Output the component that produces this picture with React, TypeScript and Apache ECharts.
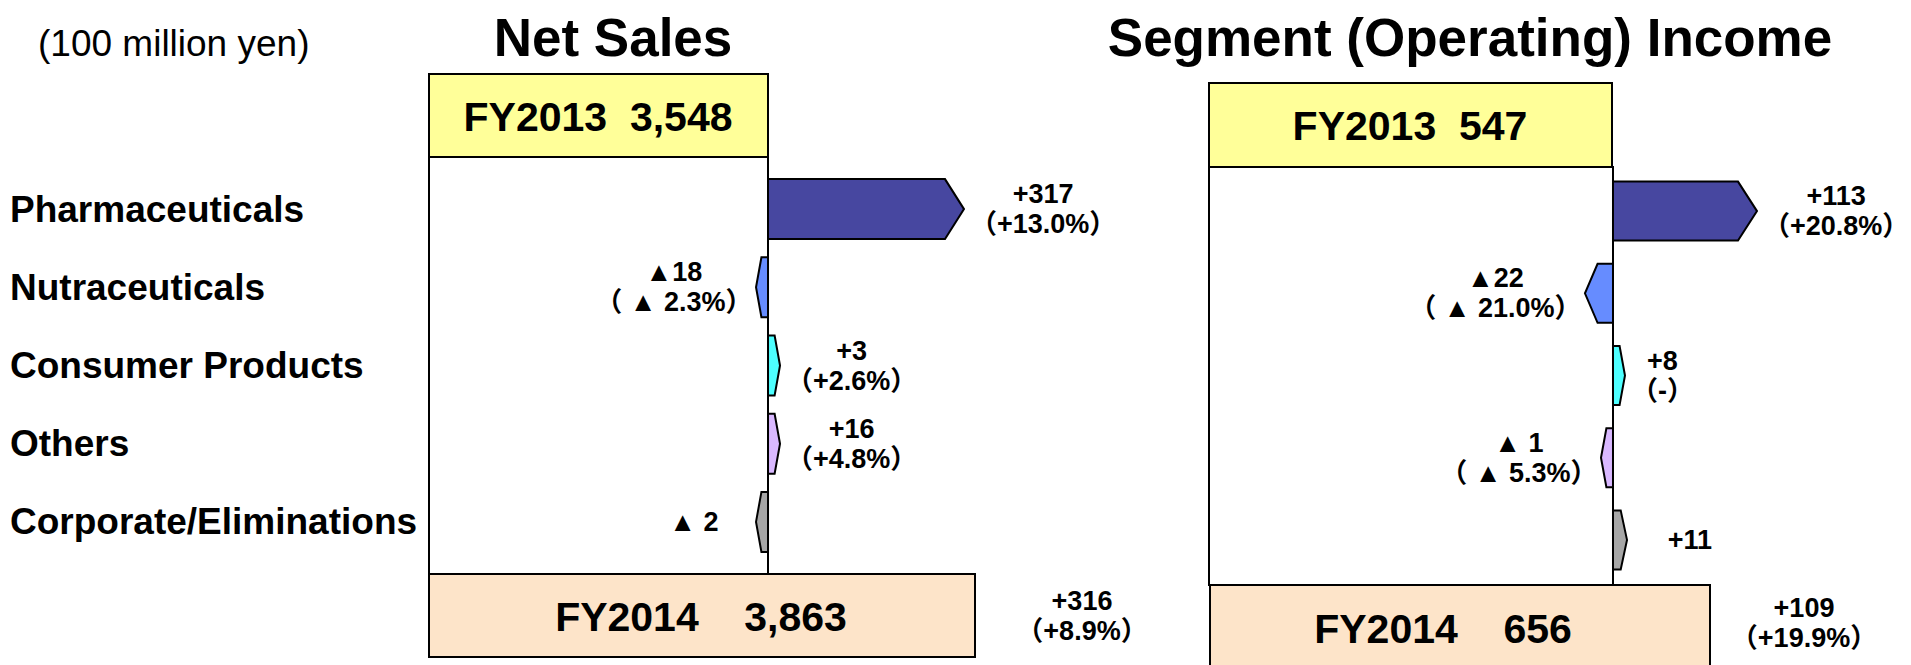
import React, { useEffect, useRef } from "react";
import * as echarts from "echarts";

// ---------- data ----------
const categories = ["Pharmaceuticals", "Nutraceuticals", "Consumer Products", "Others", "Corporate/Eliminations"];
const segmentColors = ["#4747A0", "#668CFF", "#4DFFFF", "#D9B8FF", "#A6A6A6"];

const salesChange = [317, -18, 3, 16, -2];
const salesChangeText = ["+317", "▲18", "+3", "+16", "▲ 2"];
const salesChangePct = ["（+13.0%）", "（ ▲ 2.3%）", "（+2.6%）", "（+4.8%）", ""];

const incomeChange = [113, -22, 8, -1, 11];
const incomeChangeText = ["+113", "▲22", "+8", "▲ 1", "+11"];
const incomeChangePct = ["（+20.8%）", "（ ▲ 21.0%）", "（-）", "（ ▲ 5.3%）", ""];

const fiscalYears = ["FY2013", "FY2014"];
const salesTotals = [3548, 3863];
const incomeTotals = [547, 656];
const salesTotalChange = ["+316", "（+8.9%）"];
const incomeTotalChange = ["+109", "（+19.9%）"];

const titles = ["Net Sales", "Segment (Operating) Income"];
const unitText = "(100 million yen)";

// ---------- styling ----------
const FONT = "Arial, 'Liberation Sans', 'Noto Sans CJK JP', sans-serif";
const LABEL_FS = 27;

function estWidth(s: string, fs: number) {
  let w = 0;
  for (const ch of s) {
    if ("（）".includes(ch)) w += 1.0;
    else if (ch === "▲") w += 0.8;
    else if (ch === "%") w += 0.889;
    else if (ch === "." || ch === " ") w += 0.278;
    else if (ch === "-") w += 0.333;
    else if (ch === "+") w += 0.584;
    else w += 0.556;
  }
  return w * fs;
}

function fmt(n: number) {
  return n.toLocaleString("en-US");
}

function makeRenderItem(texts: string[], pcts: string[], barH: number) {
  return (params: any, api: any) => {
    const idx = params.dataIndex;
    const v = api.value(0);
    const cat = api.value(1);
    const start = api.coord([0, cat]);
    const end = api.coord([v, cat]);
    const dir = v >= 0 ? 1 : -1;
    let len = end[0] - start[0];
    const MIN = 12;
    if (Math.abs(len) < MIN) len = dir * MIN;
    const x0 = start[0];
    const x1 = x0 + len;
    const yc = start[1];
    const d = Math.min(19, Math.abs(len) * 0.45) * dir;
    const top = yc - barH / 2;
    const bot = yc + barH / 2;
    const points = [
      [x0, top],
      [x1 - d, top],
      [x1, yc],
      [x1 - d, bot],
      [x0, bot],
    ];
    const lines = [texts[idx], pcts[idx]].filter((s) => s);
    const w = Math.max(...lines.map((s) => estWidth(s, LABEL_FS)));
    const gap = pcts[idx] ? 6 : 40;
    const cx = x1 + dir * (gap + w / 2);
    return {
      type: "group",
      children: [
        {
          type: "polygon",
          shape: { points },
          style: { fill: segmentColors[idx], stroke: "#000", lineWidth: 2 },
        },
        {
          type: "text",
          x: cx,
          y: yc,
          style: {
            text: lines.join("\n"),
            align: "center",
            verticalAlign: "middle",
            textAlign: "center",
            textVerticalAlign: "middle",
            fontSize: LABEL_FS,
            fontWeight: "bold",
            fontFamily: FONT,
            lineHeight: 30,
            fill: "#000",
          },
        },
      ],
    };
  };
}

function txt(text: string, x: number, y: number, fs: number, weight: string, align = "center") {
  return {
    type: "text",
    x,
    y,
    style: {
      text,
      align,
      verticalAlign: "middle",
      textAlign: align,
      textVerticalAlign: "middle",
      fontSize: fs,
      fontWeight: weight,
      fontFamily: FONT,
      lineHeight: fs === LABEL_FS ? 30 : undefined,
      fill: "#000",
    },
    z: 10,
  };
}

function box(x: number, y: number, w: number, h: number, fill: string) {
  return {
    type: "rect",
    shape: { x, y, width: w, height: h },
    style: { fill, stroke: "#000", lineWidth: 2 },
    z: 1,
  };
}

export default function App() {
  const ref = useRef<HTMLDivElement>(null);
  useEffect(() => {
    if (!ref.current) return;
    const chart = echarts.init(ref.current, undefined, { renderer: "svg" });
    const option: any = {
      animation: false,
      grid: [
        { left: 428, top: 170, width: 536, height: 391, containLabel: false, outerBoundsMode: "none" },
        { left: 1209, top: 170, width: 548, height: 411, containLabel: false, outerBoundsMode: "none" },
      ],
      xAxis: [
        { type: "value", gridIndex: 0, min: -550, max: 317, show: false },
        { type: "value", gridIndex: 1, min: -317, max: 113, show: false },
      ],
      yAxis: [
        {
          type: "category",
          gridIndex: 0,
          data: categories,
          inverse: true,
          axisLine: { show: false, onZero: false },
          axisTick: { show: false },
          splitLine: { show: false },
          axisLabel: {
            align: "left",
            margin: 418,
            fontSize: 37,
            fontWeight: "bold",
            color: "#000",
            fontFamily: FONT,
          },
        },
        {
          type: "category",
          gridIndex: 1,
          data: categories,
          inverse: true,
          show: false,
          axisLine: { onZero: false },
        },
      ],
      graphic: [
        // unit + titles
        txt(unitText, 38, 43, 37, "normal", "left"),
        txt(titles[0], 613, 37, 53, "bold"),
        txt(titles[1], 1470, 37, 53, "bold"),
        // Net sales panel
        box(429, 74, 339, 83, "#FFFF99"),
        box(429, 157, 339, 417, "none"),
        box(429, 574, 546, 83, "#FDE4C9"),
        txt(`${fiscalYears[0]}  ${fmt(salesTotals[0])}`, 598, 117, 41, "bold"),
        txt(`${fiscalYears[1]}    ${fmt(salesTotals[1])}`, 701, 617, 41, "bold"),
        txt(salesTotalChange.join("\n"), 1082, 616, LABEL_FS, "bold"),
        // Income panel
        box(1209, 83, 403, 84, "#FFFF99"),
        box(1209, 167, 404, 418, "none"),
        box(1210, 585, 500, 95, "#FDE4C9"),
        txt(`${fiscalYears[0]}  ${fmt(incomeTotals[0])}`, 1410, 126, 41, "bold"),
        txt(`${fiscalYears[1]}    ${fmt(incomeTotals[1])}`, 1443, 629, 41, "bold"),
        txt(incomeTotalChange.join("\n"), 1804, 623, LABEL_FS, "bold"),
      ],
      series: [
        {
          type: "custom",
          xAxisIndex: 0,
          yAxisIndex: 0,
          clip: false,
          z: 5,
          encode: { x: 0, y: 1 },
          data: salesChange.map((v, i) => [v, i]),
          renderItem: makeRenderItem(salesChangeText, salesChangePct, 60),
        },
        {
          type: "custom",
          xAxisIndex: 1,
          yAxisIndex: 1,
          clip: false,
          z: 5,
          encode: { x: 0, y: 1 },
          data: incomeChange.map((v, i) => [v, i]),
          renderItem: makeRenderItem(incomeChangeText, incomeChangePct, 59),
        },
      ],
    };
    chart.setOption(option);
    return () => chart.dispose();
  }, []);
  return (
    <div style={{ position: "absolute", left: 0, top: 0, width: 1911, height: 665, background: "#fff" }}>
      <div ref={ref} style={{ width: 1911, height: 665 }} />
    </div>
  );
}
